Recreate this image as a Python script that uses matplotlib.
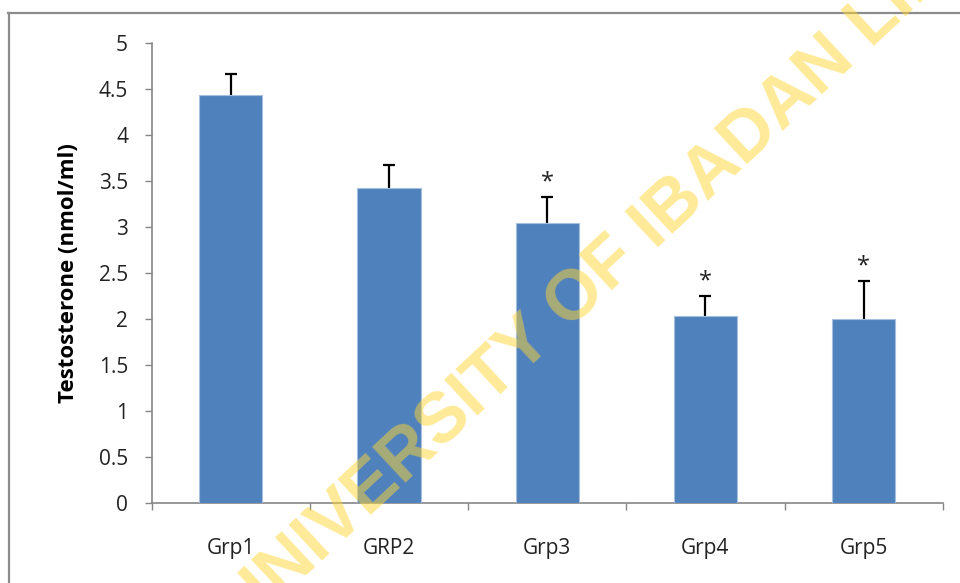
import matplotlib.pyplot as plt
from matplotlib.lines import Line2D

groups = ["Grp1", "GRP2", "Grp3", "Grp4", "Grp5"]
means = [4.44, 3.42, 3.05, 2.03, 2.00]
errors = [0.23, 0.26, 0.28, 0.22, 0.41]
significant = [False, False, True, True, True]

plt.rcParams['font.family'] = ['Open Sans', 'DejaVu Sans']

fig = plt.figure(figsize=(9.6, 5.83), dpi=100)
ax = fig.add_axes([0.158, 0.137, 0.824, 0.789])

x = list(range(len(groups)))
ax.bar(x, means, width=0.4, color="#4F81BD", edgecolor="#A7BFDE", linewidth=0.8, zorder=3)
# only the upper half of the error bar shows, the rest is hidden behind the bar
ax.errorbar(x, means, yerr=errors, fmt="none", ecolor="black",
            elinewidth=1.6, capsize=4.5, capthick=1.6, zorder=2)
for xi, m, e, s in zip(x, means, errors, significant):
    if s:
        ax.annotate("*", (xi, m + e), xytext=(0, 2), textcoords="offset points",
                    ha="center", va="bottom", fontsize=17, color="#222222")

ax.set_xlim(-0.5, len(groups) - 0.5)
ax.set_ylim(0, 5)
ax.set_yticks([0, 0.5, 1, 1.5, 2, 2.5, 3, 3.5, 4, 4.5, 5])
ax.set_yticklabels(["0", "0.5", "1", "1.5", "2", "2.5", "3", "3.5", "4", "4.5", "5"])
ax.set_xticks(x)
ax.set_xticklabels(groups)
ax.set_xticks([i - 0.5 for i in range(len(groups) + 1)], minor=True)
ax.tick_params(axis="x", which="major", length=0, pad=25, labelsize=15, labelcolor="#222222")
ax.tick_params(axis="x", which="minor", length=5, color="#868686", width=1)
ax.tick_params(axis="y", length=5, color="#868686", width=1, pad=12, labelsize=15,
               labelcolor="#222222")
for side in ["top", "right"]:
    ax.spines[side].set_visible(False)
for side in ["left", "bottom"]:
    ax.spines[side].set_color("#868686")
    ax.spines[side].set_linewidth(1.2)
ax.set_ylabel("Testosterone (nmol/ml)", fontsize=16, fontweight="bold", labelpad=14)

# outer frame of the chart area
fig.add_artist(Line2D([8 / 960, 1.0], [1 - 12.5 / 583] * 2, transform=fig.transFigure,
                      color="#8C8C8C", linewidth=1.6))
fig.add_artist(Line2D([8.5 / 960] * 2, [0, 1 - 12.5 / 583], transform=fig.transFigure,
                      color="#8C8C8C", linewidth=1.6))

# watermark
fig.text(660 / 960, 1 - 222 / 583, "UNIVERSITY OF IBADAN LIBRARY", family="Liberation Sans",
         fontweight="bold", fontsize=51, color="#FFD633", alpha=0.5, rotation=43,
         rotation_mode="anchor", ha="center", va="center", zorder=10)

fig.savefig("out.png", dpi=100)
